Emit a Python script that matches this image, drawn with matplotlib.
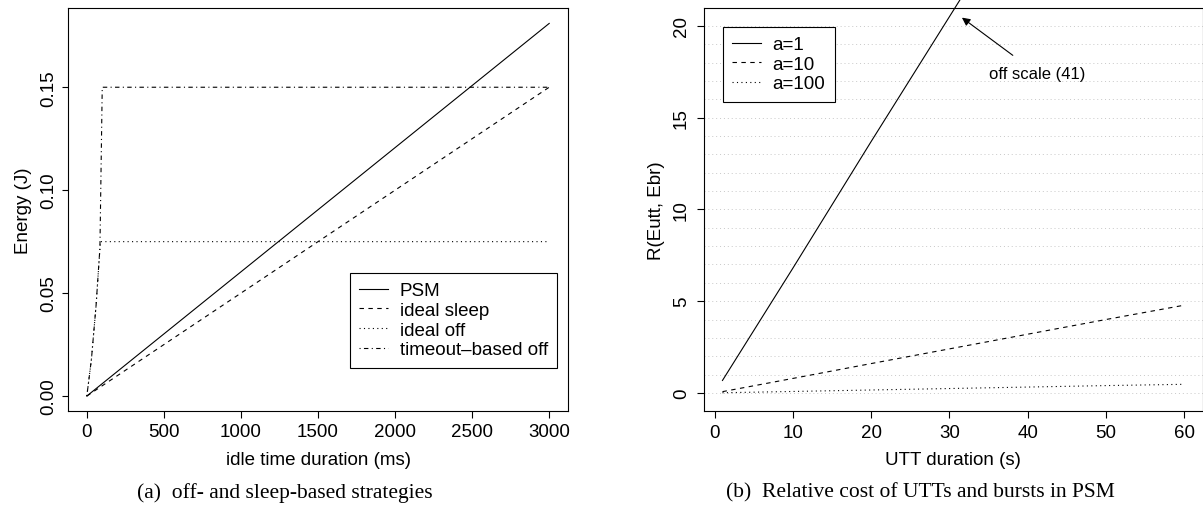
import matplotlib
matplotlib.use('Agg')
import matplotlib.pyplot as plt

# (a) energy vs idle time
idle_ms = [0, 3000]
psm_energy = [0.0, 0.181]
sleep_energy = [0.0, 0.150]
off_ms = [0, 30, 60, 88, 3000]
off_energy = [0.0, 0.018, 0.044, 0.075, 0.075]
timeout_ms = [0, 30, 60, 85, 100, 3000]
timeout_energy = [0.0, 0.018, 0.044, 0.072, 0.150, 0.150]

# (b) relative cost vs UTT duration
utt_s = [1, 10, 20, 30, 40, 50, 60]
r_a1 = [0.68, 6.8, 13.7, 20.5, 27.3, 34.2, 41.0]
r_a10 = [0.07, 0.79, 1.6, 2.4, 3.2, 4.0, 4.78]
r_a100 = [0.01, 0.08, 0.16, 0.24, 0.32, 0.40, 0.47]

plt.rcParams['font.family'] = ['Liberation Sans', 'DejaVu Sans']
plt.rcParams['font.size'] = 13.5
lw = 0.8
leg_kw = dict(fancybox=False, edgecolor='black', framealpha=1, handlelength=1.55,
              handletextpad=0.6, labelspacing=0.13, borderpad=0.5, borderaxespad=0)

fig = plt.figure(figsize=(12.03, 5.10), dpi=100)
ax1 = fig.add_axes([0.0568, 0.1922, 0.4151, 0.7902])
ax2 = fig.add_axes([0.5852, 0.1916, 0.4145, 0.7902])

ax1.plot(idle_ms, psm_energy, color='black', lw=lw, ls='-', label='PSM')
ax1.plot(idle_ms, sleep_energy, color='black', lw=lw, ls=(0, (4, 4)), label='ideal sleep')
ax1.plot(off_ms, off_energy, color='black', lw=lw, ls=(0, (1, 3)), label='ideal off')
ax1.plot(timeout_ms, timeout_energy, color='black', lw=lw, ls=(0, (1, 3, 4, 3)),
         label='timeout\u2013based off')
ax1.set_xlim(-120, 3120)
ax1.set_ylim(-0.00725, 0.1885)
ax1.set_xticks([0, 500, 1000, 1500, 2000, 2500, 3000])
ax1.set_yticks([0.0, 0.05, 0.10, 0.15])
ax1.set_yticklabels(['0.00', '0.05', '0.10', '0.15'], rotation=90, va='center')
ax1.set_xlabel('idle time duration (ms)')
ax1.set_ylabel('Energy (J)')
ax1.xaxis.set_label_coords(0.5, -0.099)
ax1.yaxis.set_label_coords(-0.073, 0.5)
leg1 = ax1.legend(loc='upper left', bbox_to_anchor=(0.564, 0.3424), **leg_kw)
leg1.get_frame().set_linewidth(0.8)

ax2.yaxis.grid(True, color='#c8c8c8', ls=(0, (1, 3)), lw=0.7)
ax2.set_yticks(range(0, 21), minor=True)
ax2.yaxis.grid(True, which='minor', color='#c8c8c8', ls=(0, (1, 3)), lw=0.7)
ax2.set_axisbelow(True)
ax2.plot(utt_s, r_a1, color='black', lw=lw, ls='-', label='a=1', clip_on=False)
ax2.plot(utt_s, r_a10, color='black', lw=lw, ls=(0, (4, 4)), label='a=10')
ax2.plot(utt_s, r_a100, color='black', lw=lw, ls=(0, (1, 3)), label='a=100')
ax2.set_xlim(-1.36, 62.36)
ax2.set_ylim(-1.0, 20.96)
ax2.set_xticks([0, 10, 20, 30, 40, 50, 60])
ax2.set_yticks([0, 5, 10, 15, 20])
ax2.set_yticklabels(['0', '5', '10', '15', '20'], rotation=90, va='center')
ax2.tick_params(axis='y', which='minor', length=0)
ax2.set_xlabel('UTT duration (s)')
ax2.set_ylabel('R(Eutt, Ebr)')
ax2.xaxis.set_label_coords(0.5, -0.099)
ax2.yaxis.set_label_coords(-0.078, 0.5)
ax2.annotate('off scale (41)', xy=(31.6, 20.45), xytext=(35.0, 17.43),
             fontsize=12, ha='left', va='center',
             arrowprops=dict(arrowstyle='-|>', color='black', lw=0.8,
                             shrinkA=9, shrinkB=0, mutation_scale=12))
leg2 = ax2.legend(loc='upper left', bbox_to_anchor=(0.0375, 0.9546), **leg_kw)
leg2.get_frame().set_linewidth(0.8)

for ax in (ax1, ax2):
    for sp in ax.spines.values():
        sp.set_linewidth(0.8)
    ax.tick_params(axis='x', direction='out', length=5, width=0.8, pad=4)
ax1.tick_params(axis='y', which='major', direction='out', length=4, width=0.8, pad=4)
ax2.tick_params(axis='y', which='major', direction='out', length=5, width=0.8, pad=5)

fig.text(285 / 1203, 1 - 493 / 510, '(a)  off- and sleep-based strategies',
         family=['Liberation Serif'], fontsize=15.5, ha='center', va='center')
fig.text(920 / 1203, 1 - 493 / 510, '(b)  Relative cost of UTTs and bursts in PSM',
         family=['Liberation Serif'], fontsize=15.5, ha='center', va='center')

fig.savefig('out.png', dpi=100)
